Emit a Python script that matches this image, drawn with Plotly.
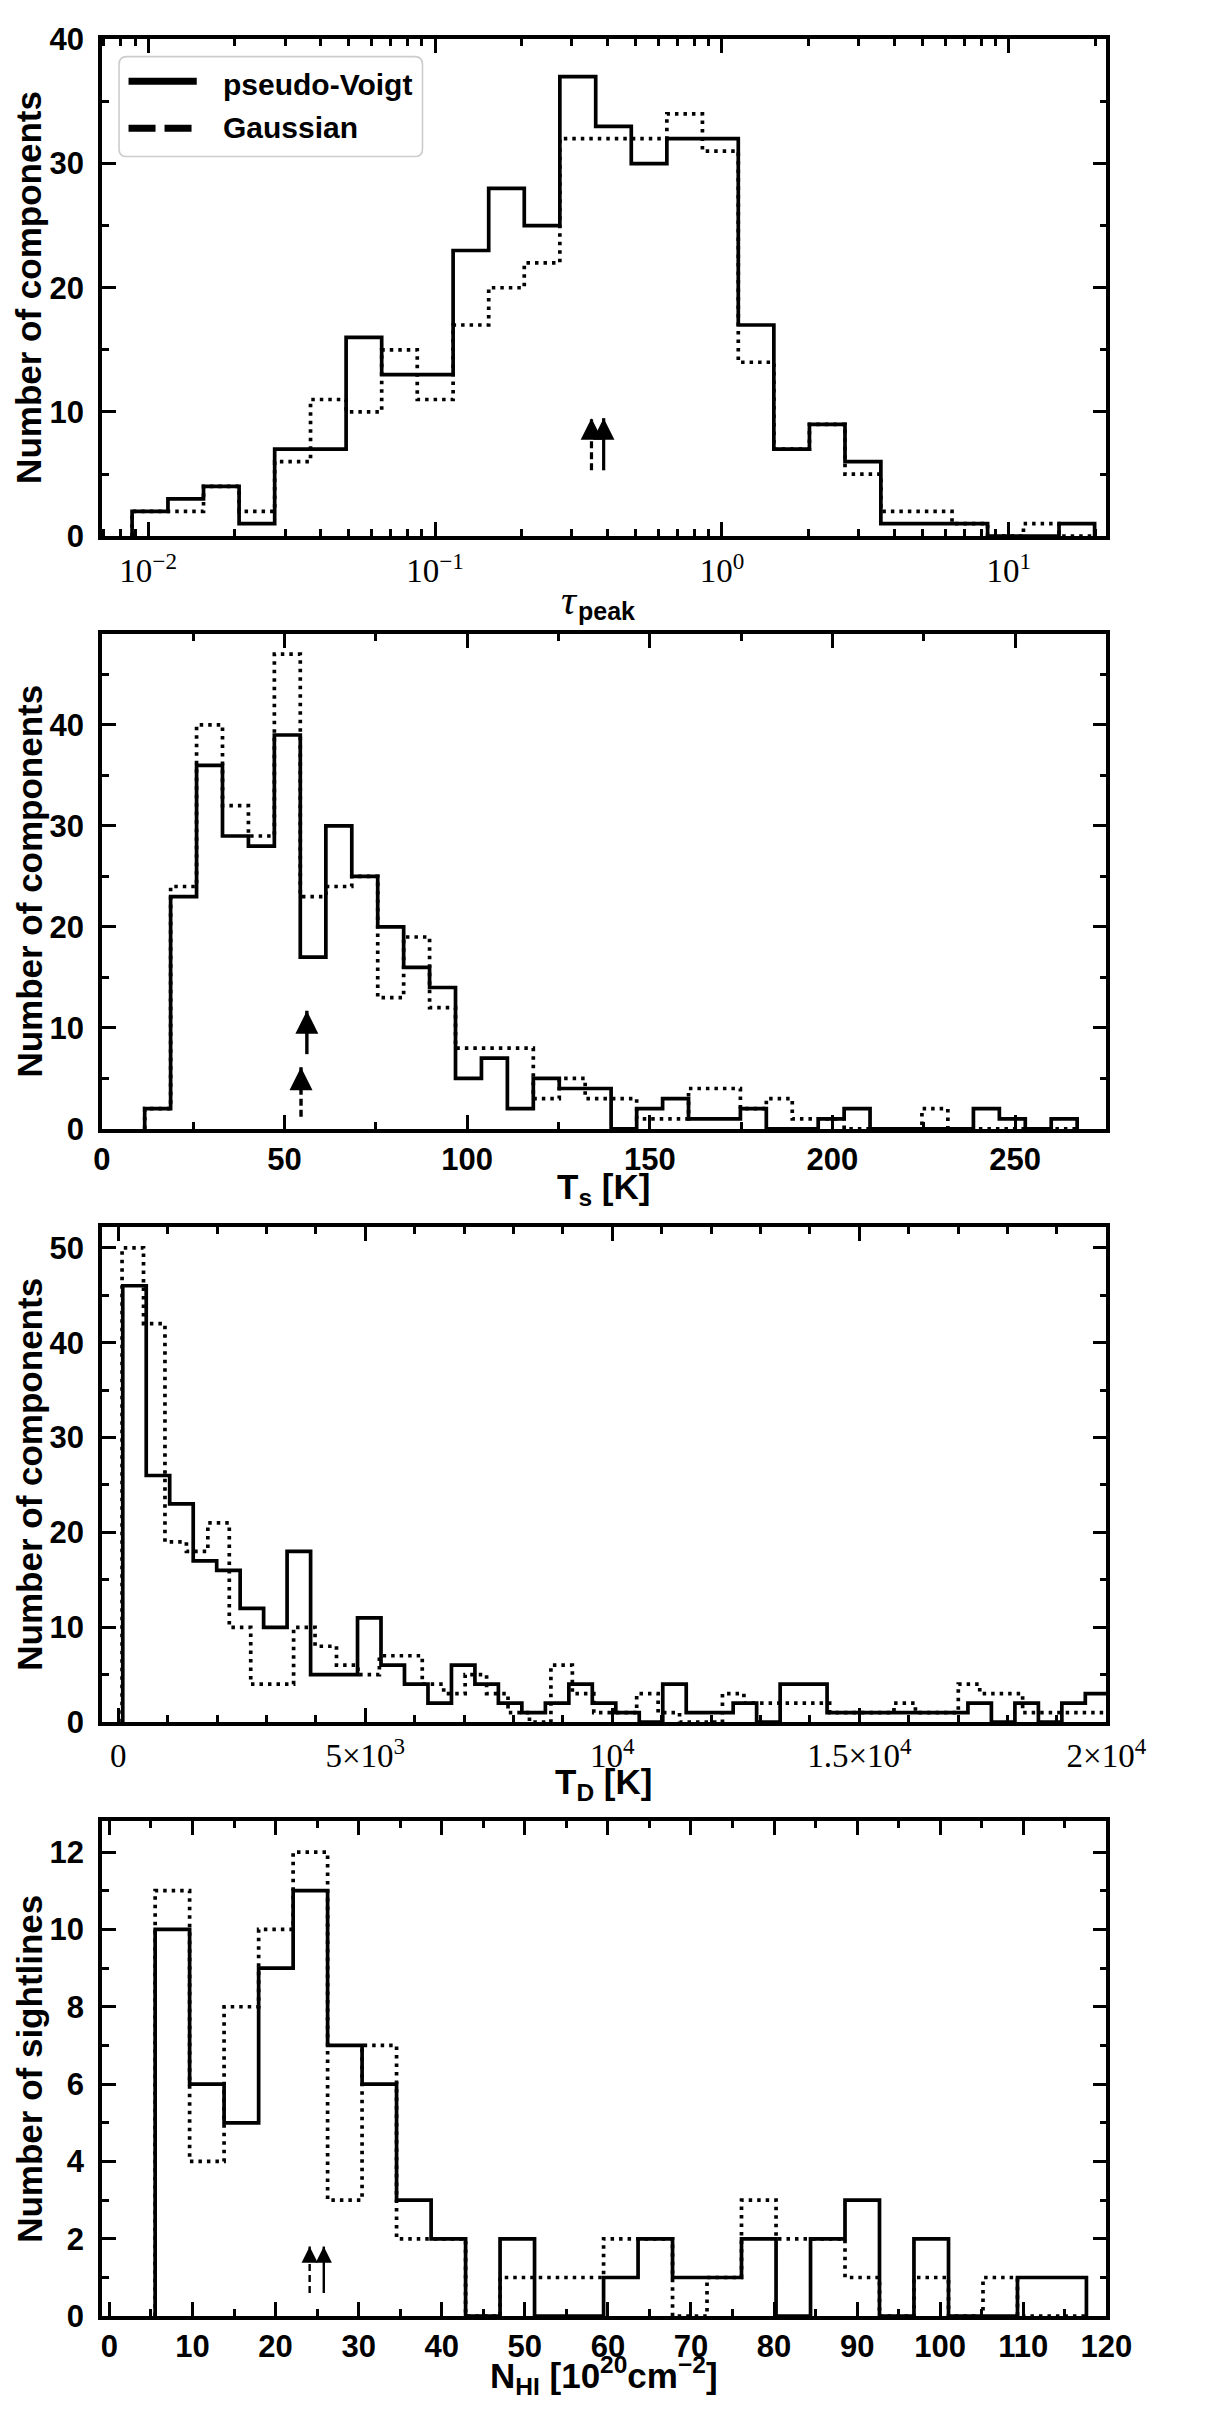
import math
import plotly.graph_objects as go

W, H = 1207, 2436

# ---------------- data ----------------
# Panel 1: tau_peak histogram (log10 of bin edges)
tau_log_edges = [-2.056, -1.931, -1.807, -1.683, -1.559, -1.434, -1.310, -1.186,
                 -1.062, -0.937, -0.813, -0.689, -0.565, -0.440, -0.316, -0.192,
                 -0.068, 0.057, 0.181, 0.305, 0.429, 0.554, 0.678, 0.802, 0.926,
                 1.051, 1.175, 1.299]
tau_pv = [2, 3, 4, 1, 7, 7, 16, 13, 13, 23, 28, 25, 37, 33, 30, 32, 32, 17, 7, 9,
          6, 1, 1, 1, 0, 0, 1]
tau_g = [2, 2, 4, 2, 6, 11, 10, 15, 11, 17, 20, 22, 32, 32, 32, 34, 31, 14, 7, 9,
         5, 2, 2, 1, 0, 1, 0]
tau_med_pv = 0.387
tau_med_g = 0.351
tau_arrow_y = [5.3, 9.5]

# Panel 2: spin temperature Ts [K]
ts_edges = [11.7, 18.8, 25.9, 33.0, 40.1, 47.2, 54.3, 61.3, 68.4, 75.5, 82.6,
            89.7, 96.8, 103.9, 111.0, 118.1, 125.2, 132.3, 139.4, 146.4, 153.5,
            160.6, 167.7, 174.8, 181.9, 189.0, 196.1, 203.2, 210.3, 217.4, 224.5,
            231.6, 238.6, 245.7, 252.8, 259.9, 267.0]
ts_pv = [2, 23, 36, 29, 28, 39, 17, 30, 25, 20, 16, 14, 5, 7, 2, 5, 4, 4, 0, 2,
         3, 1, 1, 2, 0, 0, 1, 2, 0, 0, 0, 0, 2, 1, 0, 1]
ts_g = [2, 24, 40, 32, 29, 47, 23, 24, 25, 13, 19, 12, 8, 8, 8, 3, 5, 3, 3, 1,
        1, 4, 4, 2, 3, 1, 1, 0, 0, 0, 2, 0, 0, 0, 0, 0]
ts_med_pv = 56.1
ts_med_g = 54.5
ts_arrow_pv_y = [7.4, 11.7]
ts_arrow_g_y = [1.2, 6.1]

# Panel 3: Doppler temperature TD [K]
td_edges_pv = [91, 566, 1041, 1517, 1992, 2467, 2942, 3417, 3893, 4368, 4843,
               5318, 5793, 6269, 6744, 7219, 7694, 8169, 8645, 9120, 9595, 10070,
               10545, 11021, 11496, 11971, 12446, 12921, 13397, 13872, 14347,
               14822, 15297, 15773, 16248, 16723, 17198, 17673, 18149, 18624,
               19099, 19574, 20049]
td_pv = [46, 26, 23, 17, 16, 12, 10, 18, 5, 5, 11, 6, 4, 2, 6, 4, 2, 1, 2, 4,
         2, 1, 0, 4, 1, 1, 2, 0, 4, 4, 1, 1, 1, 1, 1, 1, 2, 0, 2, 0, 2, 3]
td_edges_g = [77, 511, 945, 1379, 1813, 2247, 2681, 3115, 3549, 3983, 4417, 4851,
              5285, 5719, 6153, 6587, 7021, 7455, 7889, 8323, 8757, 9191, 9625,
              10059, 10493, 10927, 11361, 11795, 12229, 12663, 13097, 13531,
              13965, 14399, 14833, 15267, 15701, 16135, 16569, 17003, 17437,
              17871, 18305, 18739, 19173, 19607, 20041]
td_g = [50, 42, 19, 18, 21, 10, 4, 4, 10, 8, 6, 5, 7, 7, 4, 3, 5, 3, 1, 0,
        6, 3, 1, 1, 3, 1, 0, 0, 3, 2, 2, 2, 2, 1, 1, 1, 2, 1, 1, 4,
        3, 3, 1, 1, 1, 1]

# Panel 4: column density N_HI [1e20 cm^-2]
nhi_edges = [5.50, 9.65, 13.80, 17.96, 22.11, 26.26, 30.41, 34.56, 38.72, 42.87,
             47.02, 51.17, 55.32, 59.48, 63.63, 67.78, 71.93, 76.08, 80.24,
             84.39, 88.54, 92.69, 96.84, 101.00, 105.15, 109.30, 113.45, 117.60]
nhi_pv = [10, 6, 5, 9, 11, 7, 6, 3, 2, 0, 2, 0, 0, 1, 2, 1, 1, 2, 0, 2, 3, 0, 2,
          0, 0, 1, 1]
nhi_g = [11, 4, 8, 10, 12, 3, 7, 2, 2, 0, 1, 1, 1, 2, 2, 0, 1, 3, 2, 2, 1, 0, 1,
         0, 1, 0, 0]
nhi_med_pv = 25.8
nhi_med_g = 24.1
nhi_arrow_y = [0.6, 1.8]

# tick labels
tau_tickvals = [0.01, 0.1, 1, 10]
tau_ticktext = ["10<sup>−2</sup>", "10<sup>−1</sup>", "10<sup>0</sup>",
                "10<sup>1</sup>"]
td_tickvals = [0, 5000, 10000, 15000, 20000]
td_ticktext = ["0", "5×10<sup>3</sup>", "10<sup>4</sup>",
               "1.5×10<sup>4</sup>", "2×10<sup>4</sup>"]

# ---------------- styling / helpers ----------------
FONT = "Liberation Sans"
SERIF = "Liberation Serif"
TICK = 31
TITLE = 35


def step_xy(edges, counts):
    xs = [edges[0]]
    ys = [0]
    for i, c in enumerate(counts):
        xs += [edges[i], edges[i + 1]]
        ys += [c, c]
    xs.append(edges[-1])
    ys.append(0)
    return xs, ys


def px_x(p):
    return p / W


def px_y(p):
    return 1 - p / H


XDOM = [px_x(96.9), px_x(1143.8)]
panels_px = [(22.7, 526.7), (626.0, 1128.1), (1227.6, 1730.0), (1830.4, 2332.7)]
YDOMS = [[px_y(b), px_y(t)] for (t, b) in panels_px]

LW = 3.7
DOT = "3.5px,5px"

fig = go.Figure()


def axn(prefix, idx):
    return prefix if idx == 1 else "%s%d" % (prefix, idx)


def add_hist(edges, counts, idx, dotted):
    xs, ys = step_xy(edges, counts)
    fig.add_trace(go.Scatter(
        x=xs, y=ys, mode="lines",
        line=dict(color="black", width=LW, dash=DOT if dotted else "solid"),
        xaxis=axn("x", idx), yaxis=axn("y", idx),
        showlegend=False, hoverinfo="skip"))


tau_edges = [10 ** v for v in tau_log_edges]
add_hist(tau_edges, tau_g, 1, True)
add_hist(tau_edges, tau_pv, 1, False)
add_hist(ts_edges, ts_g, 2, True)
add_hist(ts_edges, ts_pv, 2, False)
add_hist(td_edges_g, td_g, 3, True)
add_hist(td_edges_pv, td_pv, 3, False)
add_hist(nhi_edges, nhi_g, 4, True)
add_hist(nhi_edges, nhi_pv, 4, False)

# median arrows
arrows = [
    # (panel, x, y_tail, y_tip, dashed, width, log-axis)
    (1, tau_med_g, tau_arrow_y[0], tau_arrow_y[1], True, 3.2, True),
    (1, tau_med_pv, tau_arrow_y[0], tau_arrow_y[1], False, 3.2, True),
    (2, ts_med_g, ts_arrow_g_y[0], ts_arrow_g_y[1], True, 3.4, False),
    (2, ts_med_pv, ts_arrow_pv_y[0], ts_arrow_pv_y[1], False, 3.4, False),
    (4, nhi_med_g, nhi_arrow_y[0], nhi_arrow_y[1], True, 2.4, False),
    (4, nhi_med_pv, nhi_arrow_y[0], nhi_arrow_y[1], False, 2.4, False),
]
annotations = []
for idx, x, y0, y1, dashed, w, islog in arrows:
    fig.add_trace(go.Scatter(
        x=[x, x], y=[y0, y1], mode="lines",
        line=dict(color="black", width=w, dash="7px,4px" if dashed else "solid"),
        xaxis=axn("x", idx), yaxis=axn("y", idx), showlegend=False,
        hoverinfo="skip"))
    annotations.append(dict(
        x=math.log10(x) if islog else x, y=y1, xref=axn("x", idx),
        yref=axn("y", idx), ax=0, ay=13, axref="pixel", ayref="pixel", text="",
        showarrow=True, arrowhead=2, arrowsize=1.35, arrowwidth=w,
        arrowcolor="black", standoff=0))


def axis_common(**kw):
    d = dict(
        showline=True, linewidth=3.5, linecolor="black", mirror="allticks",
        ticks="inside", ticklen=14, tickwidth=3, tickcolor="black",
        showgrid=False, zeroline=False,
        tickfont=dict(family=FONT, size=TICK, color="black", weight="bold"),
        minor=dict(ticks="inside", ticklen=7, tickwidth=2.5, tickcolor="black",
                   showgrid=False),
    )
    for k, v in kw.items():
        if k == "minor":
            d["minor"].update(v)
        else:
            d[k] = v
    return d


serif_font = dict(family=SERIF, size=33, color="black", weight="normal")

minor_log = []
for dec in [0.001, 0.01, 0.1, 1, 10]:
    for m in range(2, 10):
        minor_log.append(dec * m)

XSTAND = 0
YSTAND = 8

layout = dict(
    width=W, height=H, margin=dict(l=0, r=0, t=0, b=0),
    paper_bgcolor="white", plot_bgcolor="white", showlegend=False,
    font=dict(family=FONT, color="black", weight="bold"),
    xaxis=axis_common(domain=XDOM, anchor="y", type="log",
                      range=[-2.161, 1.340], tickmode="array",
                      tickvals=tau_tickvals, ticktext=tau_ticktext,
                      tickfont=serif_font, ticklabelstandoff=3,
                      minor=dict(tickmode="array", tickvals=minor_log)),
    yaxis=axis_common(domain=YDOMS[0], anchor="x", range=[0, 40],
                      tickmode="linear", tick0=0, dtick=10,
                      ticklabelstandoff=YSTAND, minor=dict(dtick=5)),
    xaxis2=axis_common(domain=XDOM, anchor="y2", range=[0, 275],
                       tickmode="linear", tick0=0, dtick=50,
                       ticklabelstandoff=XSTAND, minor=dict(dtick=25)),
    yaxis2=axis_common(domain=YDOMS[1], anchor="x2", range=[0, 49.0],
                       tickmode="linear", tick0=0, dtick=10,
                       ticklabelstandoff=YSTAND, minor=dict(dtick=5)),
    xaxis3=axis_common(domain=XDOM, anchor="y3", range=[-330, 20000],
                       tickmode="array", tickvals=td_tickvals,
                       ticktext=td_ticktext, tickfont=serif_font,
                       ticklabelstandoff=2,
                       minor=dict(dtick=1000, tick0=0)),
    yaxis3=axis_common(domain=YDOMS[2], anchor="x3", range=[0, 52.2],
                       tickmode="linear", tick0=0, dtick=10,
                       ticklabelstandoff=YSTAND, minor=dict(dtick=5)),
    xaxis4=axis_common(domain=XDOM, anchor="y4", range=[-0.9, 120],
                       tickmode="linear", tick0=0, dtick=10,
                       ticklabelstandoff=XSTAND, minor=dict(dtick=5)),
    yaxis4=axis_common(domain=YDOMS[3], anchor="x4", range=[0, 12.8],
                       tickmode="linear", tick0=0, dtick=2,
                       ticklabelstandoff=YSTAND, minor=dict(dtick=1)),
)

# y-axis titles
ytitles = ["Number of components", "Number of components",
           "Number of components", "Number of sightlines"]
for i, t in enumerate(ytitles):
    top, bot = panels_px[i]
    annotations.append(dict(
        text=t, xref="paper", yref="paper", x=px_x(21), y=px_y((top + bot) / 2),
        xanchor="center", yanchor="middle", textangle=-90, showarrow=False,
        font=dict(family=FONT, size=TITLE, color="black", weight="bold")))

# x-axis titles
annotations.append(dict(
    text="τ", xref="paper", yref="paper", x=px_x(573), y=px_y(592),
    xanchor="left", yanchor="middle", showarrow=False,
    font=dict(family=SERIF, size=42, color="black", weight="normal",
              style="italic")))
annotations.append(dict(
    text="peak", xref="paper", yref="paper", x=px_x(591), y=px_y(603),
    xanchor="left", yanchor="middle", showarrow=False,
    font=dict(family=FONT, size=25, color="black", weight="bold")))
xtitles = [
    ("T<sub>s</sub> [K]", 1189),
    ("T<sub>D</sub> [K]", 1793),
    ("N<sub>HI</sub> [10<sup>20</sup>cm<sup>−2</sup>]", 2393),
]
for t, yc in xtitles:
    annotations.append(dict(
        text=t, xref="paper", yref="paper", x=px_x(620), y=px_y(yc),
        xanchor="center", yanchor="middle", showarrow=False,
        font=dict(family=FONT, size=TITLE, color="black", weight="bold")))

# legend (drawn by hand, matplotlib-like rounded frame)
lx0, lx1, ly0, ly1 = 114.7, 431.0, 40.2, 141.6
r = 8.0
X0, X1 = px_x(lx0), px_x(lx1)
Y0, Y1 = px_y(ly0), px_y(ly1)
rx, ry = r / W, r / H
path = ("M %f,%f L %f,%f Q %f,%f %f,%f L %f,%f Q %f,%f %f,%f L %f,%f Q %f,%f %f,%f "
        "L %f,%f Q %f,%f %f,%f Z") % (
    X0 + rx, Y0, X1 - rx, Y0, X1, Y0, X1, Y0 - ry,
    X1, Y1 + ry, X1, Y1, X1 - rx, Y1,
    X0 + rx, Y1, X0, Y1, X0, Y1 + ry,
    X0, Y0 - ry, X0, Y0, X0 + rx, Y0)
shapes = [
    dict(type="path", path=path, xref="paper", yref="paper",
         line=dict(color="#cccccc", width=1.6), fillcolor="rgba(255,255,255,0.8)",
         layer="above"),
    dict(type="line", xref="paper", yref="paper", x0=px_x(124.6), x1=px_x(195.7),
         y0=px_y(65.1), y1=px_y(65.1), line=dict(color="black", width=7),
         layer="above"),
    dict(type="line", xref="paper", yref="paper", x0=px_x(124.6), x1=px_x(195.7),
         y0=px_y(112.9), y1=px_y(112.9),
         line=dict(color="black", width=7, dash="27px,9px"), layer="above"),
]
legend_labels = [("pseudo-Voigt", 68.5), ("Gaussian", 112.0)]
for t, yc in legend_labels:
    annotations.append(dict(
        text=t, xref="paper", yref="paper", x=px_x(221.4), y=px_y(yc),
        xanchor="left", yanchor="middle", showarrow=False,
        font=dict(family=FONT, size=30, color="black", weight="bold")))

layout["annotations"] = annotations
layout["shapes"] = shapes
fig.update_layout(**layout)
fig.write_html("out.html")
